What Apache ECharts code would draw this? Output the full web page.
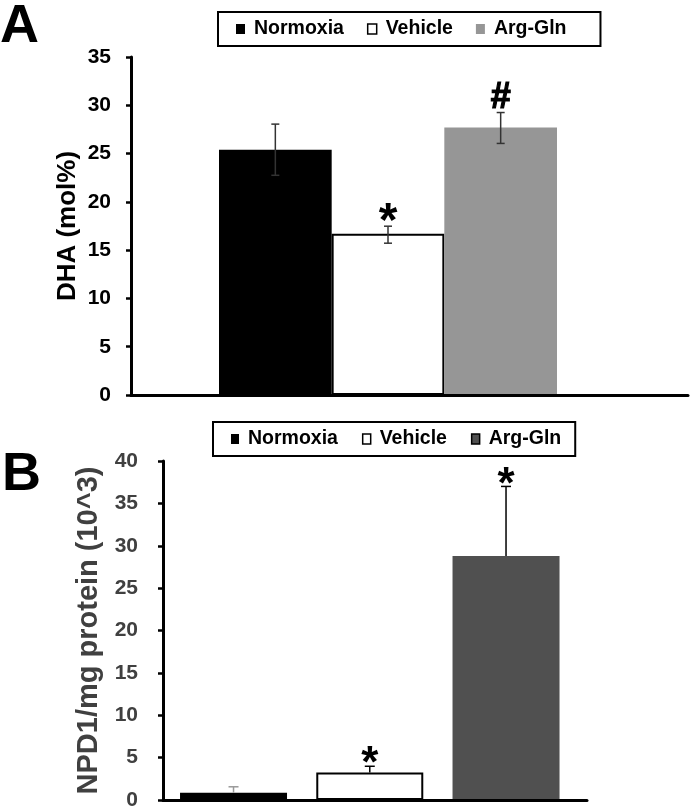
<!DOCTYPE html>
<html><head><meta charset="utf-8">
<script src="https://cdn.jsdelivr.net/npm/echarts@6/dist/echarts.min.js"></script>
<style>html,body{margin:0;padding:0;background:#fff}#c{width:690px;height:811px}</style>
</head><body><div id="c"></div>
<script>
const groups = ['Normoxia', 'Vehicle', 'Arg-Gln'];
// Panel A: DHA (mol%)
const dhaValues = [25.4, 16.7, 27.7];
const dhaErrPlus = [2.65, 0.78, 1.55];
const dhaErrMinus = [2.65, 0.98, 1.65];
const dhaMarks = ['', '*', '#'];
const dhaTicks = [0, 5, 10, 15, 20, 25, 30, 35];
// Panel B: NPD1/mg protein (10^3)
const npdValues = [0.86, 3.24, 28.8];
const npdErrPlus = [0.7, 0.74, 8.2];
const npdErrMinus = [0, 0, 0];
const npdMarks = ['', '*', '*'];
const npdTicks = [0, 5, 10, 15, 20, 25, 30, 35, 40];

const FONT = "'Liberation Sans', Arial, sans-serif";
const colorsA = ['#000000', '#ffffff', '#969696'];
const colorsB = ['#000000', '#ffffff', '#505050'];
const errColA = ['#333', '#333', '#333'];
const errColB = ['#999', '#000', '#000'];

function barSeries(vals, colors, xi, yi, width) {
  return groups.map((g, k) => ({
    type: 'bar', name: g, xAxisIndex: xi, yAxisIndex: yi,
    barWidth: width, barGap: '-100%',
    data: vals.map((v, i) => i === k ? v : '-'),
    itemStyle: { color: colors[k], borderColor: k === 1 ? '#000' : colors[k], borderWidth: k === 1 ? 2 : 0 },
    emphasis: { disabled: true }
  }));
}

function errSeries(vals, plus, minus, marks, cols, xi, yi, capW, markStyle) {
  return {
    type: 'custom', xAxisIndex: xi, yAxisIndex: yi, z: 5,
    data: vals.map((v, i) => [i, v - minus[i], v + plus[i]]),
    renderItem: function (params, api) {
      const i = api.value(0);
      const lo = api.coord([i, api.value(1)]);
      const hi = api.coord([i, api.value(2)]);
      const x = hi[0];
      const c = cols[params.dataIndex];
      const ch = [
        { type: 'line', shape: { x1: x, y1: lo[1], x2: x, y2: hi[1] }, style: { stroke: c, lineWidth: 1.5 } },
        { type: 'line', shape: { x1: x - capW / 2, y1: hi[1], x2: x + capW / 2, y2: hi[1] }, style: { stroke: c, lineWidth: 1.5 } }
      ];
      if (minus[params.dataIndex] > 0) {
        ch.push({ type: 'line', shape: { x1: x - capW / 2, y1: lo[1], x2: x + capW / 2, y2: lo[1] }, style: { stroke: c, lineWidth: 1.5 } });
      }
      const m = marks[params.dataIndex];
      if (m) {
        const ms = markStyle[m];
        ch.push({ type: 'text', x: x, y: hi[1] - ms.gap,
          style: { text: m, fill: '#000', fontSize: ms.size, fontWeight: 'bold', fontFamily: FONT,
                   stroke: '#000', lineWidth: ms.stroke || 0,
                   align: 'center', verticalAlign: 'bottom', textAlign: 'center', textVerticalAlign: 'bottom' } });
      }
      return { type: 'group', children: ch };
    }
  };
}

const chart = echarts.init(document.getElementById('c'));
const legendText = { fontSize: 19.5, fontWeight: 'bold', color: '#000', fontFamily: FONT, padding: [0, 0, 0, 4] };
const option = {
  animation: false,
  textStyle: { fontFamily: FONT },
  title: [
    { text: 'A', left: 0, top: 0, padding: 0, textStyle: { fontSize: 54, fontWeight: 'bold', color: '#000', fontFamily: FONT } },
    { text: 'B', left: 2, top: 448, padding: 0, textStyle: { fontSize: 54, fontWeight: 'bold', color: '#000', fontFamily: FONT } }
  ],
  legend: [
    { left: 218, top: 12, padding: [7, 34, 7, 18], itemGap: 23, itemWidth: 9, itemHeight: 10, icon: 'rect',
      borderColor: '#000', borderWidth: 2, selectedMode: false, textStyle: legendText,
      data: groups.map((g, k) => ({ name: g, itemStyle: { color: colorsA[k], borderColor: '#000', borderWidth: k === 1 ? 1.5 : 0 } })) },
    { left: 213, top: 422, padding: [7, 14, 7, 18], itemGap: 24, itemWidth: 8, itemHeight: 10, icon: 'rect',
      borderColor: '#000', borderWidth: 2, selectedMode: false, textStyle: legendText,
      data: groups.map((g, k) => ({ name: g, itemStyle: { color: colorsB[k], borderColor: '#000', borderWidth: k === 0 ? 0 : 1.5 } })) }
  ],
  grid: [
    { left: 219, width: 338, top: 57, height: 338 },
    { left: 131, right: 2, top: 57, height: 338 },
    { left: 165.4, width: 408.75, top: 461, height: 339 },
    { left: 163, right: 103, top: 461, height: 339 }
  ],
  xAxis: [
    { gridIndex: 0, type: 'category', data: groups, axisLine: { show: false }, axisTick: { show: false }, axisLabel: { show: false } },
    { gridIndex: 1, type: 'value', min: 0, max: 1, z: 6, axisLine: { show: true, lineStyle: { color: '#000', width: 3 } }, axisTick: { show: false }, axisLabel: { show: false }, splitLine: { show: false } },
    { gridIndex: 2, type: 'category', data: groups, axisLine: { show: false }, axisTick: { show: false }, axisLabel: { show: false } },
    { gridIndex: 3, type: 'value', min: 0, max: 1, z: 6, axisLine: { show: true, lineStyle: { color: '#000', width: 3 } }, axisTick: { show: false }, axisLabel: { show: false }, splitLine: { show: false } }
  ],
  yAxis: [
    { gridIndex: 0, type: 'value', min: dhaTicks[0], max: dhaTicks[dhaTicks.length - 1], interval: 5, offset: 88,
      name: 'DHA (mol%)', nameLocation: 'middle', nameGap: 50,
      nameTextStyle: { fontSize: 26, fontWeight: 'bold', color: '#000', fontFamily: FONT },
      axisLine: { show: true, lineStyle: { color: '#000', width: 3 } },
      axisTick: { show: true, length: 5, lineStyle: { color: '#000', width: 2.5 } },
      axisLabel: { fontSize: 21, fontWeight: 'bold', color: '#000', margin: 20, fontFamily: FONT },
      splitLine: { show: false } },
    { gridIndex: 1, type: 'value', min: 0, max: 1, show: false },
    { gridIndex: 2, type: 'value', min: npdTicks[0], max: npdTicks[npdTicks.length - 1], interval: 5, offset: 2.4,
      name: 'NPD1/mg protein (10^3)', nameLocation: 'middle', nameGap: 55,
      nameTextStyle: { fontSize: 29, fontWeight: 'bold', color: '#404040', fontFamily: FONT },
      axisLine: { show: true, lineStyle: { color: '#000', width: 3 } },
      axisTick: { show: true, length: 5, lineStyle: { color: '#000', width: 2.5 } },
      axisLabel: { fontSize: 21, fontWeight: 'bold', color: '#404040', margin: 25, fontFamily: FONT },
      splitLine: { show: false } },
    { gridIndex: 3, type: 'value', min: 0, max: 1, show: false }
  ],
  series: [].concat(
    barSeries(dhaValues, colorsA, 0, 0, 112.7),
    [errSeries(dhaValues, dhaErrPlus, dhaErrMinus, dhaMarks, errColA, 0, 0, 8,
      { '*': { size: 48, gap: -21 }, '#': { size: 36, gap: -4, stroke: 1.2 } })],
    barSeries(npdValues, colorsB, 2, 2, 107),
    [errSeries(npdValues, npdErrPlus, npdErrMinus, npdMarks, errColB, 2, 2, 10,
      { '*': { size: 44, gap: -21 } })]
  )
};
chart.setOption(option);
</script>
</body></html>
